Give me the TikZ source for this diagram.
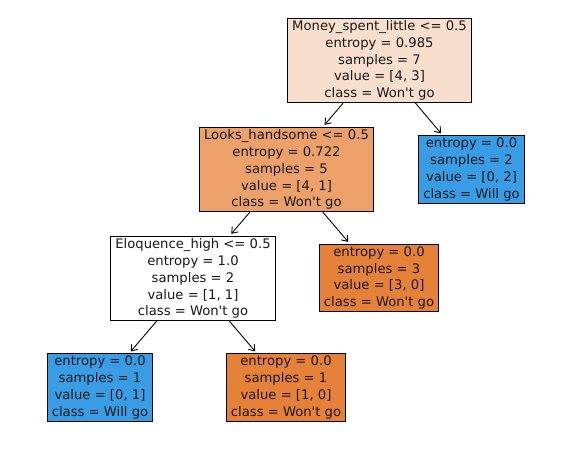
\documentclass[tikz,border=0pt]{standalone}
\usepackage{fontspec}
\setmainfont{DejaVu Sans}
\usepackage{tikz}
\usetikzlibrary{arrows.meta}
\definecolor{DTOrange}{HTML}{E58139}
\definecolor{DTOrangeMid}{HTML}{ECA06A}
\definecolor{DTOrangeLight}{HTML}{F8DFCD}
\definecolor{DTBlue}{HTML}{399DE5}
\newcommand{\wontgo}{Won\textquotesingle t go}

\begin{document}
\begin{tikzpicture}[x=0.02cm, y=-0.02cm,
          tbox/.style={rectangle, draw=black, line width=0.5pt, inner xsep=2.6pt,
                       inner ysep=1.2pt, font=\fontsize{7.5}{9.6}\selectfont,
                       align=center, text=black!90},
          arr/.style={-{Straight Barb[length=3pt, width=4.5pt]}, line width=0.5pt,
                      shorten >=1.5pt}
        ]
        \useasboundingbox (0,0) rectangle (572,449);

        % split nodes
        \node[tbox, fill=DTOrangeLight] (root) at (379.5,60.5)
              {Money\_spent\_little <= 0.5\\entropy = 0.985\\samples = 7\\value = [4, 3]\\class = \wontgo};
        \node[tbox, fill=DTOrangeMid] (looks) at (286.5,169.5)
              {Looks\_handsome <= 0.5\\entropy = 0.722\\samples = 5\\value = [4, 1]\\class = \wontgo};
        \node[tbox, fill=white] (eloq) at (193,278.5)
              {Eloquence\_high <= 0.5\\entropy = 1.0\\samples = 2\\value = [1, 1]\\class = \wontgo};

        % leaves
        \node[tbox, fill=DTBlue] (leafA) at (471.5,169.5)
              {entropy = 0.0\\samples = 2\\value = [0, 2]\\class = Will go};
        \node[tbox, fill=DTOrange] (leafB) at (379,278)
              {entropy = 0.0\\samples = 3\\value = [3, 0]\\class = \wontgo};
        \node[tbox, fill=DTBlue] (leafC) at (100,387.5)
              {entropy = 0.0\\samples = 1\\value = [0, 1]\\class = Will go};
        \node[tbox, fill=DTOrange] (leafD) at (286,387.5)
              {entropy = 0.0\\samples = 1\\value = [1, 0]\\class = \wontgo};

        \draw[arr] (root)--(looks);
        \draw[arr] (root)--(leafA);
        \draw[arr] (looks)--(eloq);
        \draw[arr] (looks)--(leafB);
        \draw[arr] (eloq)--(leafC);
        \draw[arr] (eloq)--(leafD);
      \end{tikzpicture}
\end{document}
